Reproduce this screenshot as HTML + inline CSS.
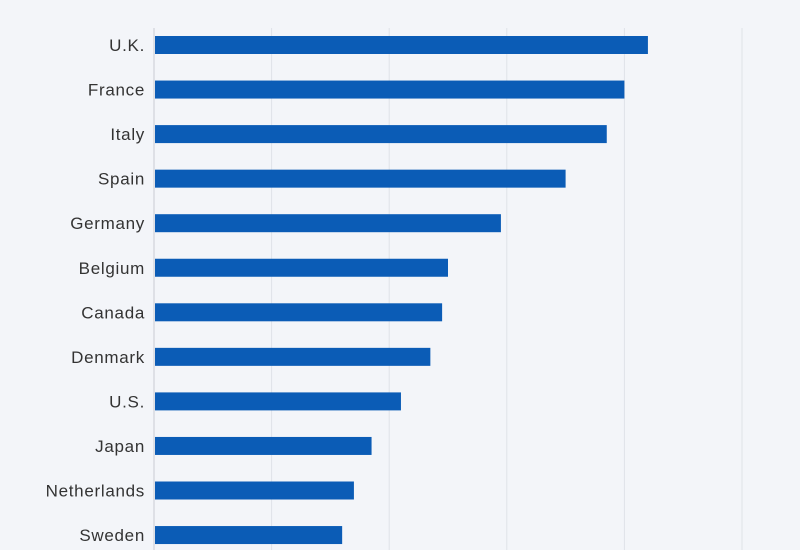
<!DOCTYPE html>
<html><head><meta charset="utf-8"><style>
html,body{margin:0;padding:0;background:#f3f5f9;}
svg{display:block;font-family:"Liberation Sans",sans-serif;}
</style></head><body>
<svg id="chart" width="800" height="550"></svg>
<script>
const categories=["U.K.","France","Italy","Spain","Germany","Belgium","Canada","Denmark","U.S.","Japan","Netherlands","Sweden"];
const values=[420,400,385,350,295,250,245,235,210,185,170,160];
const ticks=[0,100,200,300,400,500];
const svg=document.getElementById('chart');
const NS='http://www.w3.org/2000/svg';
const x0=154,x1=742,vmax=500;
const xs=v=>x0+(v/vmax)*(x1-x0);
const ys=i=>45+i*44.55;
function mk(t,a){const e=document.createElementNS(NS,t);for(const k in a)e.setAttribute(k,a[k]);svg.appendChild(e);return e;}
ticks.forEach(t=>{
  const g=mk('line',{x1:xs(t),x2:xs(t),y1:28,y2:550,stroke:t===0?'#c8ccd4':'#dfe2e8','stroke-width':1});
  
  
});
categories.forEach((c,i)=>{
  const r=mk('rect',{x:x0+1,y:ys(i)-9,width:xs(values[i])-x0-1,height:18,fill:'#0b5cb6'});
  
  
  const l=mk('text',{x:145,y:ys(i)+6,'text-anchor':'end','font-size':17,'letter-spacing':0.7,fill:'#333'});
  l.textContent=c;
  
  
});
</script>
</body></html>
